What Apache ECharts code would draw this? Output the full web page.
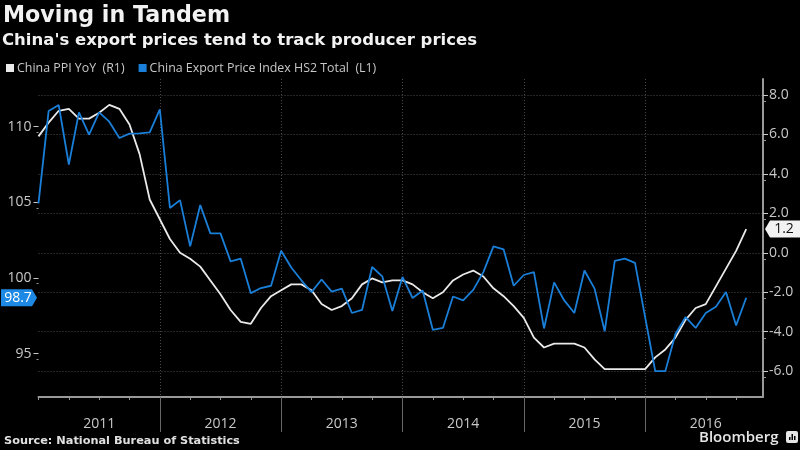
<!DOCTYPE html>
<html>
<head>
<meta charset="utf-8">
<style>html,body{margin:0;padding:0;background:#000}#chart{width:800px;height:450px}</style>
<script src="https://cdn.jsdelivr.net/npm/echarts@6/dist/echarts.min.js"></script>
</head>
<body>
<div id="chart"></div>
<script>
const yearLabels = ["2011", "2012", "2013", "2014", "2015", "2016"];
const ppiValues = [
  5.9,
  6.6, 7.2, 7.3, 6.8, 6.8, 7.1, 7.5, 7.3, 6.5, 5.0, 2.7, 1.7,
  0.7, 0.0, -0.3, -0.7, -1.4, -2.1, -2.9, -3.5, -3.6, -2.8, -2.2, -1.9,
  -1.6, -1.6, -1.9, -2.6, -2.9, -2.7, -2.3, -1.6, -1.3, -1.5, -1.4, -1.4,
  -1.6, -2.0, -2.3, -2.0, -1.4, -1.1, -0.9, -1.2, -1.8, -2.2, -2.7, -3.3,
  -4.3, -4.8, -4.6, -4.6, -4.6, -4.8, -5.4, -5.9, -5.9, -5.9, -5.9, -5.9,
  -5.3, -4.9, -4.3, -3.4, -2.8, -2.6, -1.7, -0.8, 0.1, 1.2
];
const exportValues = [
  104.93,
  111.03, 111.43, 107.5, 110.95, 109.47, 110.95, 110.33, 109.25, 109.54, 109.56, 109.63, 111.15,
  104.63, 105.15, 102.09, 104.82, 102.95, 102.95, 101.1, 101.28, 99.0, 99.34, 99.49, 101.8,
  100.7, 99.85, 99.07, 99.9, 99.1, 99.3, 97.69, 97.89, 100.73, 100.11, 97.82, 100.07,
  98.68, 99.18, 96.58, 96.7, 98.78, 98.52, 99.22, 100.39, 102.09, 101.9, 99.49, 100.2,
  100.39, 96.67, 99.71, 98.52, 97.69, 100.5, 99.3, 96.48, 101.13, 101.28, 101.0, 97.42,
  93.85, 93.85, 96.3, 97.42, 96.7, 97.69, 98.1, 99.07, 96.87, 98.7
];
const leftTicks = [95, 100, 105, 110];
const rightTicks = [-6, -4, -2, 0, 2, 4, 6, 8];
const quarterTicks = [];
for (let m = 0; m <= 69; m += 3) quarterTicks.push(m);
const yearMids = yearLabels.map((y, i) => 6 + i * 12);
const yearEnds = yearLabels.map((y, i) => (i + 1) * 12).slice(0, 5);

const ppiName = "China PPI YoY  (R1)";
const exportName = "China Export Price Index HS2 Total  (L1)";
const xMax = 71.66;
const numFont = "Open Sans";
const textCol = "#c8c8c8";
const gridCol = "#4a4a4a";
const axisCol = "#999";
const blue = "#1a7fd8";

const chart = echarts.init(document.getElementById("chart"));
chart.setOption({
  backgroundColor: "#000",
  animation: false,
  title: [
    { text: "Moving in Tandem", left: 3, top: 5, padding: 0,
      textStyle: { color: "#f2f2f2", fontFamily: "DejaVu Sans", fontWeight: "bold", fontSize: 22.2 } },
    { text: "China's export prices tend to track producer prices", left: 2, top: 32, padding: 0,
      textStyle: { color: "#f2f2f2", fontFamily: "DejaVu Sans", fontWeight: "bold", fontSize: 16.5 } },
    { text: "Source: National Bureau of Statistics", left: 4, top: 436, padding: 0,
      textStyle: { color: "#e0e0e0", fontFamily: "DejaVu Sans", fontWeight: "bold", fontSize: 11.3 } },
    { text: "Bloomberg", left: 699, top: 430, padding: 0,
      textStyle: { color: "#e6e6e6", fontFamily: "Open Sans", fontWeight: 600, fontSize: 15 } }
  ],
  legend: {
    left: 6, top: 62, padding: 0, itemWidth: 8, itemHeight: 8, itemGap: 14,
    data: [{ name: ppiName, icon: "rect" }, { name: exportName, icon: "rect" }],
    textStyle: { color: textCol, fontFamily: "Open Sans", fontSize: 12.4, padding: [0, 0, 0, -2] }
  },
  grid: { left: 38.5, right: 37, top: 79, bottom: 53 },
  xAxis: [
    {
      type: "value", min: 0, max: xMax, position: "bottom",
      axisLine: { show: true, onZero: false, lineStyle: { color: axisCol, width: 2 } },
      axisTick: { show: true, length: 3, customValues: quarterTicks, lineStyle: { color: axisCol } },
      axisLabel: {
        show: true, customValues: yearMids, margin: 20, color: textCol, fontFamily: numFont, fontSize: 14,
        formatter: v => yearLabels[(v - 6) / 12]
      },
      splitLine: { show: false }
    },
    {
      type: "value", min: 0, max: xMax, position: "bottom",
      axisLine: { show: false, onZero: false },
      axisTick: { show: true, length: 35, customValues: yearEnds, lineStyle: { color: "#666" } },
      axisLabel: { show: false },
      splitLine: { show: true, customValues: [0].concat(yearEnds), lineStyle: { color: gridCol, type: [1, 2] } }
    }
  ],
  yAxis: [
    {
      type: "value", position: "left", min: 92.14, max: 113.15, interval: 5,
      axisLine: { show: false, onZero: false },
      axisTick: { show: true, length: 5, customValues: leftTicks, lineStyle: { color: "#c8c8c8" } },
      minorTick: { show: true, splitNumber: 2, length: 2, lineStyle: { color: axisCol } },
      axisLabel: { show: true, customValues: leftTicks, margin: 7, color: textCol, fontFamily: numFont, fontSize: 14 },
      splitLine: { show: false }
    },
    {
      type: "value", position: "right", min: -7.31, max: 8.81, interval: 2,
      axisLine: { show: true, onZero: false, lineStyle: { color: axisCol, width: 2 } },
      axisTick: { show: true, length: 5, customValues: rightTicks, lineStyle: { color: "#c8c8c8" } },
      minorTick: { show: true, splitNumber: 2, length: 3, lineStyle: { color: axisCol } },
      axisLabel: {
        show: true, customValues: rightTicks, margin: 6, color: textCol, fontFamily: numFont, fontSize: 14,
        formatter: v => v.toFixed(1)
      },
      splitLine: { show: true, customValues: rightTicks, lineStyle: { color: gridCol, type: [1, 2] } }
    }
  ],
  series: [
    {
      name: ppiName, type: "line", xAxisIndex: 0, yAxisIndex: 1, showSymbol: false, color: "#eaeaea",
      lineStyle: { width: 1.8 },
      data: ppiValues.map((v, i) => [i, v]),
      markPoint: {
        silent: true, animation: false,
        data: [{ coord: [xMax, ppiValues[ppiValues.length - 1]] }],
        symbol: "path://M0,8 L5,0 L36,0 L36,16 L5,16 Z", symbolKeepAspect: false,
        symbolSize: [36, 17], symbolOffset: [20, 0],
        itemStyle: { color: "#f2f2f2" },
        label: { show: true, position: "inside", offset: [1, 0], color: "#111", fontFamily: numFont, fontSize: 14,
          formatter: () => ppiValues[ppiValues.length - 1].toFixed(1) }
      }
    },
    {
      name: exportName, type: "line", xAxisIndex: 0, yAxisIndex: 0, showSymbol: false, color: blue,
      lineStyle: { width: 1.8 },
      data: exportValues.map((v, i) => [i, v]),
      markPoint: {
        silent: true, animation: false,
        data: [{ coord: [0, exportValues[exportValues.length - 1]] }],
        symbol: "path://M0,0 L31,0 L36,8 L31,16 L0,16 Z", symbolKeepAspect: false,
        symbolSize: [36, 17], symbolOffset: [-19.5, 0],
        itemStyle: { color: "#1e88e5" },
        label: { show: true, position: "inside", offset: [-1, 0], color: "#fff", fontFamily: numFont, fontSize: 14,
          formatter: () => exportValues[exportValues.length - 1].toFixed(1) }
      }
    }
  ],
  graphic: [
    { type: "group", left: 786, top: 431, children: [
      { type: "rect", shape: { x: 0, y: 0, width: 12, height: 12, r: 2 }, style: { fill: "#e6e6e6" } },
      { type: "rect", shape: { x: 3, y: 6, width: 1.5, height: 3 }, style: { fill: "#000" } },
      { type: "rect", shape: { x: 5.5, y: 3, width: 1.5, height: 6 }, style: { fill: "#000" } },
      { type: "rect", shape: { x: 8, y: 5, width: 1.5, height: 4 }, style: { fill: "#000" } }
    ] }
  ]
});
</script>
</body>
</html>
